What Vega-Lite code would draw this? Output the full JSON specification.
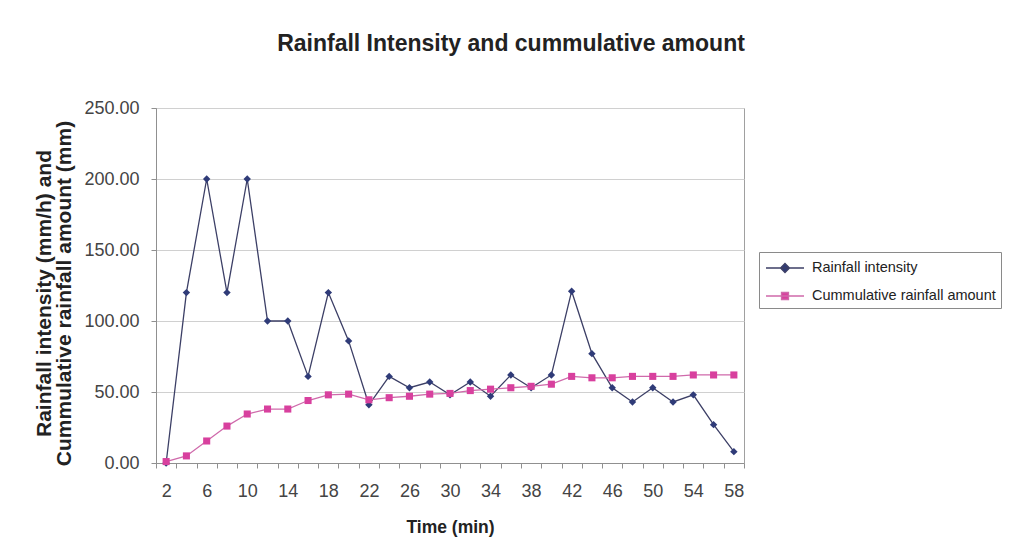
{
  "$schema": "https://vega.github.io/schema/vega-lite/v6.json",
  "width": 588,
  "height": 355,
  "autosize": "none",
  "padding": {"left": 156, "top": 108, "right": 265, "bottom": 96},
  "background": "white",
  "config": {
    "font": "Liberation Sans",
    "view": {"stroke": "#a0a0a0", "strokeWidth": 1}
  },
  "title": {
    "text": "Rainfall Intensity and cummulative amount",
    "fontSize": 23,
    "fontWeight": "bold",
    "color": "#222222",
    "anchor": "middle",
    "dx": 61,
    "baseline": "alphabetic",
    "offset": 25
  },
  "data": {
    "values": [
      {"t": 2, "intensity": 0, "cumulative": 1},
      {"t": 4, "intensity": 120, "cumulative": 5},
      {"t": 6, "intensity": 200, "cumulative": 15.5},
      {"t": 8, "intensity": 120, "cumulative": 26},
      {"t": 10, "intensity": 200, "cumulative": 34.5},
      {"t": 12, "intensity": 100, "cumulative": 38},
      {"t": 14, "intensity": 100, "cumulative": 38},
      {"t": 16, "intensity": 61, "cumulative": 44},
      {"t": 18, "intensity": 120, "cumulative": 48},
      {"t": 20, "intensity": 86, "cumulative": 48.5},
      {"t": 22, "intensity": 41, "cumulative": 44.5},
      {"t": 24, "intensity": 61, "cumulative": 46},
      {"t": 26, "intensity": 53, "cumulative": 47},
      {"t": 28, "intensity": 57, "cumulative": 48.5},
      {"t": 30, "intensity": 48, "cumulative": 49},
      {"t": 32, "intensity": 57, "cumulative": 51},
      {"t": 34, "intensity": 47, "cumulative": 52},
      {"t": 36, "intensity": 62, "cumulative": 53},
      {"t": 38, "intensity": 53, "cumulative": 54},
      {"t": 40, "intensity": 62, "cumulative": 55.5},
      {"t": 42, "intensity": 121, "cumulative": 61},
      {"t": 44, "intensity": 77, "cumulative": 60},
      {"t": 46, "intensity": 53, "cumulative": 60},
      {"t": 48, "intensity": 43, "cumulative": 61},
      {"t": 50, "intensity": 53, "cumulative": 61},
      {"t": 52, "intensity": 43, "cumulative": 61},
      {"t": 54, "intensity": 48, "cumulative": 62},
      {"t": 56, "intensity": 27, "cumulative": 62},
      {"t": 58, "intensity": 8, "cumulative": 62}
    ]
  },
  "transform": [{"fold": ["intensity", "cumulative"], "as": ["series", "v"]}],
  "encoding": {
    "x": {
      "field": "t",
      "type": "quantitative",
      "scale": {"domain": [1, 59], "nice": false, "zero": false},
      "axis": {
        "values": [1,2,3,4,5,6,7,8,9,10,11,12,13,14,15,16,17,18,19,20,21,22,23,24,25,26,27,28,29,30,31,32,33,34,35,36,37,38,39,40,41,42,43,44,45,46,47,48,49,50,51,52,53,54,55,56,57,58,59],
        "labelExpr": "(datum.value - 2) % 4 == 0 ? datum.label : ''",
        "labelOverlap": false,
        "labelFlush": false,
        "labelFontSize": 18,
        "labelColor": "#444444",
        "labelPadding": 14,
        "grid": false,
        "domainColor": "#909090",
        "tickColor": "#909090",
        "tickSize": 5,
        "tickOpacity": {"condition": {"test": "datum.value % 2 == 1", "value": 1}, "value": 0},
        "title": "Time (min)",
        "titleFontSize": 17.5,
        "titleFontWeight": "bold",
        "titleColor": "#222222",
        "titlePadding": 18
      }
    },
    "y": {
      "field": "v",
      "type": "quantitative",
      "scale": {"domain": [0, 250], "nice": false},
      "axis": {
        "values": [0, 50, 100, 150, 200, 250],
        "format": ".2f",
        "labelFontSize": 18,
        "labelColor": "#444444",
        "labelPadding": 12,
        "grid": true,
        "gridColor": "#d0d0d0",
        "domainColor": "#909090",
        "tickColor": "#909090",
        "tickSize": 5,
        "title": ["Rainfall intensity (mm/h) and", "Cummulative rainfall amount (mm)"],
        "titleFontSize": 21,
        "titleFontWeight": "bold",
        "titleColor": "#222222",
        "titleAngle": -90,
        "titleAlign": "center",
        "titleBaseline": "top",
        "titleX": -123,
        "titleY": 185,
        "titleLineHeight": 20
      }
    }
  },
  "layer": [
    {
      "mark": {"type": "line", "strokeWidth": 1.3},
      "encoding": {
        "stroke": {
          "field": "series",
          "type": "nominal",
          "scale": {"domain": ["intensity", "cumulative"], "range": ["#3c3f66", "#cf6aab"]},
          "legend": {
            "title": null,
            "orient": "none",
            "legendX": 603,
            "legendY": 144,
            "strokeColor": "#8a8a8a",
            "fillColor": "white",
            "padding": 5,
            "symbolSize": 400,
            "symbolOffset": 10,
            "symbolStrokeWidth": 1.3,
            "labelFontSize": 14.5,
            "labelLimit": 400,
            "labelColor": "#222222",
            "labelOffset": 16,
            "rowPadding": 9,
            "labelExpr": "datum.value == 'intensity' ? 'Rainfall intensity' : 'Cummulative rainfall amount'",
            "encode": {
              "symbols": {
                "update": {
                  "shape": {"signal": "datum.value == 'intensity' ? 'M-1.9,0H1.9M0,-0.45L0.45,0L0,0.45L-0.45,0Z' : 'M-1.9,0H1.9M-0.35,-0.35H0.35V0.35H-0.35Z'"},
                  "fill": {"signal": "datum.value == 'intensity' ? '#2f3b78' : '#d8409e'"},
                  "fillOpacity": {"value": 1},
                  "size": {"value": 400}
                }
              }
            }
          }
        }
      }
    },
    {
      "transform": [{"filter": "datum.series == 'intensity'"}],
      "mark": {"type": "point", "filled": true, "size": 55, "opacity": 1, "strokeWidth": 0, "shape": "diamond", "color": "#2f3b78"}
    },
    {
      "transform": [{"filter": "datum.series == 'cumulative'"}],
      "mark": {"type": "point", "filled": true, "size": 50, "opacity": 1, "strokeWidth": 0, "shape": "square", "color": "#d8409e"}
    }
  ]
}
